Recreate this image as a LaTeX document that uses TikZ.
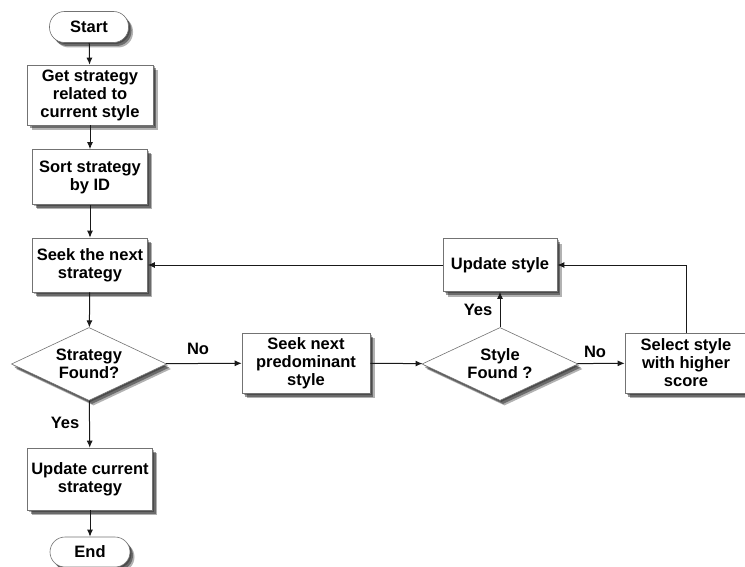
\documentclass[tikz,border=0pt]{standalone}
\usepackage{fontspec}
\setmainfont{Liberation Sans}
\usetikzlibrary{shapes.geometric,shadows,arrows.meta}
\tikzset{
  x=1pt,y=-1pt,
  softshadow/.style={
    drop shadow={shadow xshift=1.5pt,shadow yshift=-1.5pt,opacity=.3,fill=black},
    drop shadow={shadow xshift=3pt,shadow yshift=-3.5pt,opacity=.4,fill=black},
    drop shadow={shadow xshift=4.5pt,shadow yshift=-5pt,opacity=.3,fill=black}},
  base/.style={draw=black!55,line width=0.6pt,fill=white,softshadow,
    font=\fontsize{16.5}{18}\selectfont\bfseries,align=center,inner sep=0pt},
  procbox/.style={base,rectangle},
  termbox/.style={base,rectangle,rounded corners=15pt,minimum width=79pt,minimum height=31pt},
  decbox/.style={base,diamond,aspect=2,minimum width=155pt,minimum height=73pt},
  conn/.style={draw=black!90,line width=1pt,-{Latex[length=7pt,width=6pt]}},
  lbl/.style={font=\fontsize{16.5}{18}\selectfont\bfseries,inner sep=0pt}
}
\begin{document}
\begin{tikzpicture}
\useasboundingbox (0,0) rectangle (745,567);
\node[termbox] (start) at (89,27) {Start};
\node[procbox,minimum width=126pt,minimum height=60pt] (get) at (90,95) {Get strategy\\related to\\current style};
\node[procbox,minimum width=115pt,minimum height=55pt] (sort) at (90,177) {Sort strategy\\by ID};
\node[procbox,minimum width=115pt,minimum height=54pt] (seek) at (90,265) {Seek the next\\strategy};
\node[decbox] (f1) at (89,364) {Strategy\\Found?};
\node[procbox,minimum width=125pt,minimum height=62pt] (updcur) at (90,479) {Update current\\strategy};
\node[termbox,minimum width=80pt,minimum height=30pt] (end) at (90,552) {End};
\node[procbox,minimum width=128pt,minimum height=60pt] (pred) at (306,363) {Seek next\\predominant\\style};
\node[decbox,minimum width=156pt] (f2) at (500,364) {Style\\Found ?};
\node[procbox,minimum width=114pt,minimum height=53pt] (upd) at (500,265) {Update style};
\node[procbox,minimum width=122pt,minimum height=60pt] (sel) at (686,363) {Select style\\with higher\\score};
\node[lbl] (no1) at (198,349) {No};
\node[lbl] (yes1) at (65,423) {Yes};
\node[lbl] (yes2) at (478,310) {Yes};
\node[lbl] (no2) at (595,352) {No};
\draw[conn] (start) -- (get);
\draw[conn] (get) -- (sort);
\draw[conn] (sort) -- (seek);
\draw[conn] (seek) -- (f1);
\draw[conn] (f1) -- (updcur);
\draw[conn] (updcur) -- (end);
\draw[conn] (f1) -- (pred);
\draw[conn] (pred) -- (f2);
\draw[conn] (f2) -- (upd);
\draw[conn] (f2) -- (sel);
\draw[conn] (sel.north) |- (upd.east);
\draw[conn] (upd) -- (seek);
\end{tikzpicture}
\end{document}
